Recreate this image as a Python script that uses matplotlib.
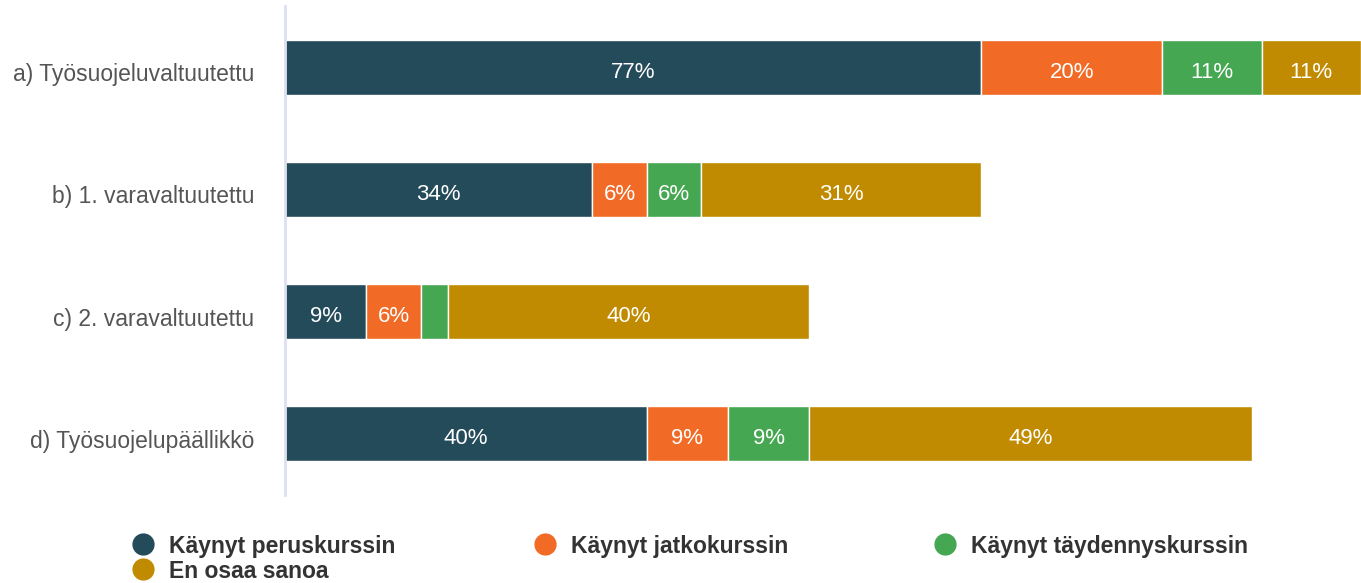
import matplotlib.pyplot as plt
import matplotlib.transforms as mtransforms
from matplotlib.lines import Line2D

plt.rcParams['font.family'] = ['Liberation Sans', 'DejaVu Sans']

categories = ['a) Työsuojeluvaltuutettu', 'b) 1. varavaltuutettu',
              'c) 2. varavaltuutettu', 'd) Työsuojelupäällikkö']
series = ['Käynyt peruskurssin', 'Käynyt jatkokurssin',
          'Käynyt täydennyskurssin', 'En osaa sanoa']
perus = [77, 34, 9, 40]
jatko = [20, 6, 6, 9]
taydennys = [11, 6, 3, 9]
en_osaa = [11, 31, 40, 49]
colors = ['#244b5a', '#f26b26', '#46a753', '#c08b00']

values = [perus, jatko, taydennys, en_osaa]

fig = plt.figure(figsize=(13.61, 5.83), dpi=100)
ax = fig.add_axes([285 / 1361, 88 / 583, 1 - 285 / 1361, 489 / 583])

y = list(range(len(categories)))
left = [0] * len(categories)
for vals, col in zip(values, colors):
    ax.barh(y, vals, left=left, height=0.45, color=col,
            edgecolor='white', linewidth=1)
    for i, v in enumerate(vals):
        if v >= 5:
            ax.text(left[i] + v / 2, y[i] + 0.04, f'{v}%', ha='center',
                    va='center', color='white', fontsize=16)
    left = [l + v for l, v in zip(left, vals)]

ax.set_xlim(0, 119)
ax.set_ylim(3.5, -0.5)
ax.set_yticks(y)
ax.set_yticklabels(categories, fontsize=16.5, color='#555555')
ax.tick_params(axis='y', length=0, pad=22)
# nudge the category labels down a little, like the original
shift = mtransforms.ScaledTranslation(0, -0.05, fig.dpi_scale_trans)
for lbl in ax.get_yticklabels():
    lbl.set_transform(lbl.get_transform() + shift)
ax.set_xticks([])
for s in ['top', 'right', 'bottom']:
    ax.spines[s].set_visible(False)
ax.spines['left'].set_color('#dde0ee')
ax.spines['left'].set_linewidth(2)

# legend drawn manually in rows of three
col_x = [143, 545, 945]
row_y = [544, 569]
for i, (name, col) in enumerate(zip(series, colors)):
    cx = col_x[i % 3] / 1361
    cy = 1 - row_y[i // 3] / 583
    fig.add_artist(Line2D([cx], [cy], marker='o', markersize=15,
                          color=col, transform=fig.transFigure))
    fig.text(cx + 26 / 1361, cy - 2 / 583, name, fontsize=16.5,
             fontweight='bold', color='#333333', va='center', ha='left')

fig.savefig('out.png', dpi=100, facecolor='white')
